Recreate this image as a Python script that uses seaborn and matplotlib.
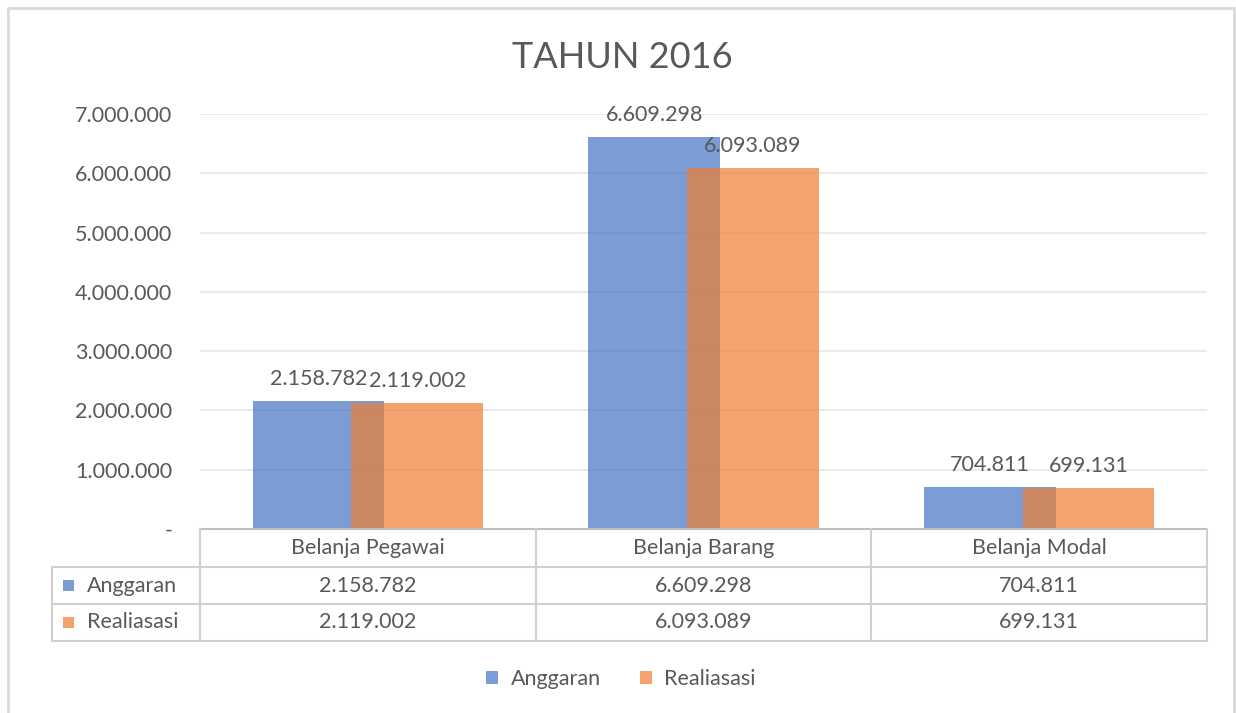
import matplotlib
matplotlib.use("Agg")
import matplotlib.pyplot as plt
import seaborn as sns
import pandas as pd
from matplotlib.lines import Line2D
from matplotlib.patches import Patch

# ---- data ----
categories = ["Belanja Pegawai", "Belanja Barang", "Belanja Modal"]
anggaran = [2158782, 6609298, 704811]
realiasasi = [2119002, 6093089, 699131]
series_names = ["Anggaran", "Realiasasi"]
yticks = [0, 1000000, 2000000, 3000000, 4000000, 5000000, 6000000, 7000000]
title = "TAHUN 2016"


def fmt(v):
    return "-" if v == 0 else f"{v:,}".replace(",", ".")


sns.set_theme(style="white")
plt.rcParams['font.family'] = ['Lato', 'DejaVu Sans']

TXT = "#595959"
BLUE = "#4472C4"
ORANGE = "#ED7D31"
ALPHA = 0.7
GRID = "#E6E6E6"
LINE = "#D0D0D0"
FS = 15.5

W, H = 1236, 713
fig = plt.figure(figsize=(W / 100, H / 100), dpi=100)


def fx(px):
    return px / W


def fy(py):
    return 1 - py / H


ax = fig.add_axes([fx(200), fy(529), fx(1207) - fx(200), fy(114) - fy(529)])

df = pd.DataFrame({"Kategori": categories, "Anggaran": anggaran, "Realiasasi": realiasasi})
bw = 0.393
offs = {"Anggaran": -0.147, "Realiasasi": 0.147}
cols = {"Anggaran": BLUE, "Realiasasi": ORANGE}
for name in series_names:
    n0 = len(ax.patches)
    sns.barplot(data=df, x="Kategori", y=name, color=cols[name], alpha=ALPHA,
                saturation=1, width=bw, linewidth=0, ax=ax, errorbar=None)
    for p, v in zip(ax.patches[n0:], df[name]):
        p.set_x(p.get_x() + offs[name])
        ax.annotate(fmt(v), (p.get_x() + p.get_width() / 2, p.get_height()),
                    xytext=(0, 11.5), textcoords="offset points",
                    ha="center", va="baseline", fontsize=FS, color=TXT)

ax.set_xlim(-0.5, 2.5)
ax.set_ylim(0, 7000000)
ax.set_yticks(yticks)
ax.set_yticklabels([fmt(v) for v in yticks])
ax.set_xticks([])
ax.set_xlabel("")
ax.set_ylabel("")
ax.tick_params(axis="y", length=0, pad=20, labelsize=FS, labelcolor=TXT)
ax.yaxis.grid(True, color=GRID, lw=1.2)
ax.set_axisbelow(True)
for s in ax.spines.values():
    s.set_visible(False)

# ---- data table ----
def line(x0, y0, x1, y1, color=LINE, lw=1.5):
    fig.add_artist(Line2D([fx(x0), fx(x1)], [fy(y0), fy(y1)], color=color, lw=lw))

# column boundaries from the axes' own scale
fig.canvas.draw()
bounds = []
for b in [-0.5, 0.5, 1.5, 2.5]:
    disp = ax.transData.transform((b, 0))
    bounds.append(disp[0])
rows = [529, 567, 604, 641]
left = 52
line(bounds[0], rows[0], bounds[-1], rows[0], color="#BFBFBF")
for r in rows[1:]:
    line(left, r, bounds[-1], r)
line(left, rows[1], left, rows[3])
for b in bounds:
    line(b, rows[0], b, rows[3])

for i, c in enumerate(categories):
    xc = (bounds[i] + bounds[i + 1]) / 2
    fig.text(fx(xc), fy((rows[0] + rows[1]) / 2), c, ha="center", va="center",
             fontsize=FS, color=TXT)
for j, (name, vals) in enumerate([("Anggaran", anggaran), ("Realiasasi", realiasasi)]):
    yc = (rows[j + 1] + rows[j + 2]) / 2
    sq = 11
    fig.add_artist(plt.Rectangle((fx(63), fy(yc + sq / 2)), fx(sq), sq / H,
                                 color=cols[name], alpha=ALPHA, lw=0))
    fig.text(fx(87), fy(yc), name, ha="left", va="center", fontsize=FS, color=TXT)
    for i, v in enumerate(vals):
        xc = (bounds[i] + bounds[i + 1]) / 2
        fig.text(fx(xc), fy(yc), fmt(v), ha="center", va="center", fontsize=FS, color=TXT)

# ---- title ----
fig.text(fx(622), fy(57), title, ha="center", va="center", fontsize=26,
         fontweight="normal", color=TXT)

# ---- legend ----
handles = [Patch(facecolor=cols[n], alpha=ALPHA, lw=0) for n in series_names]
fig.legend(handles, series_names, loc="center", bbox_to_anchor=(fx(621), fy(679)),
           ncol=2, frameon=False, fontsize=FS, labelcolor=TXT,
           handlelength=0.55, handleheight=0.55, handletextpad=0.6, columnspacing=1.8)

# ---- outer border ----
bc = "#D9D9D9"
line(8, 8, 1234, 8, color=bc, lw=2)
line(8, 8, 8, 713, color=bc, lw=2)
line(1234, 8, 1234, 713, color=bc, lw=2)

fig.savefig("out.png", dpi=100)
